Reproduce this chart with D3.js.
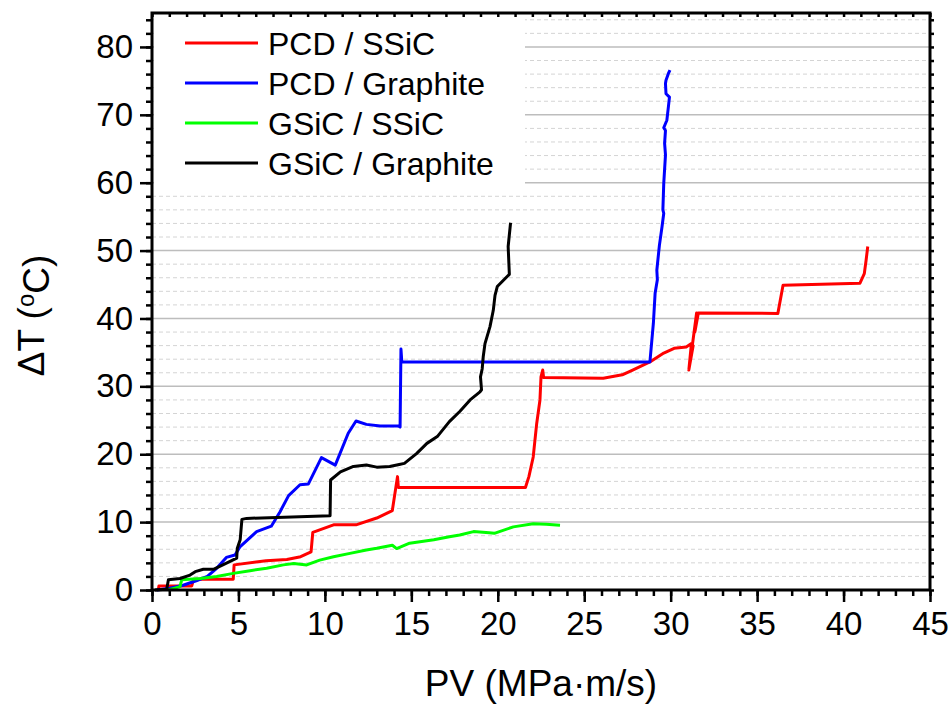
<!DOCTYPE html>
<html>
<head>
<meta charset="utf-8">
<script src="https://cdn.jsdelivr.net/npm/d3@7"></script>
<style>
  body { margin: 0; background: #fff; }
  text { font-family: "Liberation Sans", Arial, sans-serif; }
</style>
</head>
<body>
<div id="chart"></div>
<script>
'use strict';

// series: [PV, dT]
const pcdSsic = [
  [0.37, 0], [0.4, 0.6], [2.3, 0.6], [2.4, 1.6], [4.7, 1.6], [4.75, 3.7], [6.6, 4.3],
  [7.8, 4.5], [8.6, 4.9], [9.2, 5.6], [9.3, 8.5], [10.5, 9.6], [11.8, 9.6], [13.0, 10.6],
  [13.9, 11.7], [14.2, 16.7], [14.25, 15.1], [21.6, 15.1], [21.8, 16.7], [22.05, 19.6],
  [22.25, 24.5], [22.44, 28], [22.5, 31.4], [22.6, 32.4], [22.65, 31.3], [26.1, 31.2],
  [27.2, 31.7], [27.8, 32.4], [28.8, 33.6], [29.6, 34.9], [30.2, 35.6], [30.9, 35.8],
  [31.2, 36.3], [31.05, 32.4], [31.3, 36], [31.2, 35], [31.5, 40.8], [31.4, 38],
  [31.6, 40.8], [36.2, 40.75], [36.5, 44.9], [40.95, 45.2], [41.2, 46.6], [41.3, 48.5],
  [41.4, 50.6]
];

const pcdGraphite = [
  [0.27, 0], [1.04, 0.25], [1.8, 0.7], [2.6, 1.4], [3.2, 2.0], [3.74, 3.2], [4.3, 4.8],
  [4.8, 5.15], [5.1, 6.4], [6.05, 8.6], [6.9, 9.4], [7.4, 11.5], [7.9, 13.9], [8.56, 15.5],
  [9.04, 15.6], [9.8, 19.5], [10.6, 18.4], [11.35, 23.1], [11.8, 24.9], [12.4, 24.4],
  [13.2, 24.15], [14.25, 24.15], [14.35, 24.0], [14.4, 35.5], [14.45, 33.6], [28.8, 33.6],
  [29.0, 39.3], [29.1, 43.7], [29.23, 45.7], [29.2, 47.1], [29.3, 49.6], [29.35, 50.8],
  [29.5, 53.5], [29.6, 55.5], [29.55, 56], [29.6, 59.9], [29.7, 64.1], [29.65, 65.8],
  [29.7, 67.7], [29.6, 68.1], [29.78, 69.2], [29.87, 71.2], [29.93, 72.6], [29.73, 73.1],
  [29.7, 74.6], [29.73, 75.1], [29.87, 76.1], [29.96, 76.6]
];

const gsicSsic = [
  [0.95, 0], [1.62, 0.5], [1.72, 1.5], [2.8, 1.7], [3.74, 2.0], [4.7, 2.45], [5.67, 2.85],
  [6.63, 3.2], [7.6, 3.7], [8.2, 3.9], [8.95, 3.7], [9.7, 4.4], [10.5, 4.9], [11.45, 5.4],
  [12.4, 5.9], [13.0, 6.15], [13.9, 6.6], [14.15, 6.1], [14.9, 6.9], [16.3, 7.4],
  [17.2, 7.85], [17.8, 8.1], [18.6, 8.6], [19.5, 8.45], [19.8, 8.35], [20.9, 9.3],
  [22.05, 9.75], [22.8, 9.7], [23.6, 9.55]
];

const gsicGraphite = [
  [0.17, 0], [0.85, 0.1], [0.95, 1.5], [1.62, 1.7], [2.2, 2.2], [2.5, 2.7], [2.97, 3.05],
  [3.55, 3.05], [4.1, 3.7], [4.9, 4.7], [4.93, 6.1], [5.1, 7.4], [5.2, 10.4], [5.47, 10.55],
  [10.3, 10.95], [10.33, 16.2], [10.9, 17.4], [11.65, 18.2], [12.4, 18.4], [13.0, 18.1],
  [13.75, 18.2], [14.3, 18.5], [14.6, 18.65], [15.3, 20.1], [15.9, 21.6], [16.5, 22.6],
  [17.2, 24.8], [17.8, 26.3], [18.4, 28], [18.97, 29.2], [19.06, 29.5], [19.0, 31.4],
  [19.1, 32.6], [19.16, 34.4], [19.26, 36.3], [19.55, 38.8], [19.74, 41.2], [19.84, 43.4],
  [19.97, 44.7], [20.67, 46.5], [20.6, 50.6], [20.74, 54.1]
];

const seriesNames = ["PCD / SSiC", "PCD / Graphite", "GSiC / SSiC", "GSiC / Graphite"];
const seriesColors = ["#ff0000", "#0000ff", "#00ff00", "#000000"];
const xTicks = [0, 5, 10, 15, 20, 25, 30, 35, 40, 45];
const yTicks = [0, 10, 20, 30, 40, 50, 60, 70, 80];

var margin = { top: 13, right: 22, bottom: 118, left: 152 },
    width = 952 - margin.left - margin.right,
    height = 708 - margin.top - margin.bottom;

var x = d3.scaleLinear().domain([0, 45]).range([0, width]);
var y = d3.scaleLinear().domain([0, 85]).range([height, 0]);

var svg = d3.select("#chart").append("svg")
    .attr("width", 952)
    .attr("height", 708)
    .append("g")
    .attr("transform", "translate(" + margin.left + "," + margin.top + ")");

// grid: dashed every 2, solid every 10
var minorY = d3.range(2, 85, 2).filter(function (v) { return v % 10 !== 0; });
svg.append("g").selectAll("line").data(minorY).join("line")
    .attr("x1", 0).attr("x2", width)
    .attr("y1", d => y(d)).attr("y2", d => y(d))
    .style("stroke", "#d4d4d4").style("stroke-width", "1px")
    .style("stroke-dasharray", "4,3");
svg.append("g").selectAll("line").data(yTicks.slice(1)).join("line")
    .attr("x1", 0).attr("x2", width)
    .attr("y1", d => y(d)).attr("y2", d => y(d))
    .style("stroke", "#bdbdbd").style("stroke-width", "1.5px");

// data lines
var line = d3.line()
    .x(function (d) { return x(d[0]); })
    .y(function (d) { return y(d[1]); });

[pcdSsic, pcdGraphite, gsicSsic, gsicGraphite].forEach(function (s, i) {
    svg.append("path")
        .datum(s)
        .style("fill", "none")
        .style("stroke", seriesColors[i])
        .style("stroke-width", "3px")
        .style("stroke-linejoin", "round")
        .attr("d", line);
});

// legend
var legend = svg.append("g");
legend.append("rect")
    .attr("x", 2).attr("y", 2).attr("width", 371).attr("height", 175)
    .style("fill", "#fff");
seriesNames.forEach(function (name, i) {
    var ly = 30 + i * 40;
    legend.append("line")
        .attr("x1", 33).attr("x2", 106).attr("y1", ly).attr("y2", ly)
        .style("stroke", seriesColors[i]).style("stroke-width", "3px");
    legend.append("text")
        .attr("x", 116).attr("y", ly).attr("dy", "0.36em")
        .style("font-size", "32px")
        .text(name);
});

// axes
function styleAxis(g) {
    g.select(".domain").remove();
    g.selectAll(".tick line").style("stroke", "#000").style("stroke-width", "2.5px");
    g.selectAll("text").style("font-size", "33px").style("fill", "#000")
        .style("font-family", "'Liberation Sans', Arial, sans-serif");
}

svg.append("g")
    .attr("transform", "translate(0," + height + ")")
    .call(d3.axisBottom(x).tickValues(d3.range(0, 46, 1)).tickSize(6).tickFormat(""))
    .call(styleAxis);
svg.append("g")
    .attr("transform", "translate(0," + height + ")")
    .call(d3.axisBottom(x).tickValues(xTicks).tickSize(12).tickPadding(10))
    .call(styleAxis);

svg.append("g")
    .call(d3.axisLeft(y).tickValues(d3.range(0, 85, 2)).tickSize(6).tickFormat(""))
    .call(styleAxis);
svg.append("g")
    .call(d3.axisLeft(y).tickValues(yTicks).tickSize(12).tickPadding(7))
    .call(styleAxis);

// top and right mirror ticks
svg.append("g")
    .call(d3.axisBottom(x).tickValues(d3.range(0, 46, 1)).tickSize(4).tickFormat(""))
    .call(styleAxis);
svg.append("g")
    .attr("transform", "translate(" + width + ",0)")
    .call(d3.axisRight(y).tickValues(d3.range(0, 85, 2)).tickSize(4).tickFormat(""))
    .call(styleAxis);

// frame
svg.append("rect")
    .attr("width", width).attr("height", height)
    .style("fill", "none").style("stroke", "#000").style("stroke-width", "3px");

// titles
svg.append("text")
    .attr("x", width / 2).attr("y", height + 106)
    .attr("text-anchor", "middle")
    .style("font-size", "37px")
    .text("PV (MPa·m/s)");

var yt = svg.append("text")
    .attr("transform", "translate(-108," + (y(42.5) + 14) + ") rotate(-90)")
    .attr("text-anchor", "middle")
    .style("font-size", "37px");
yt.append("tspan").text("ΔT (");
yt.append("tspan").attr("dy", "-0.4em").style("font-size", "24px").text("o");
yt.append("tspan").attr("dy", "0.4em").text("C)");
</script>
</body>
</html>
